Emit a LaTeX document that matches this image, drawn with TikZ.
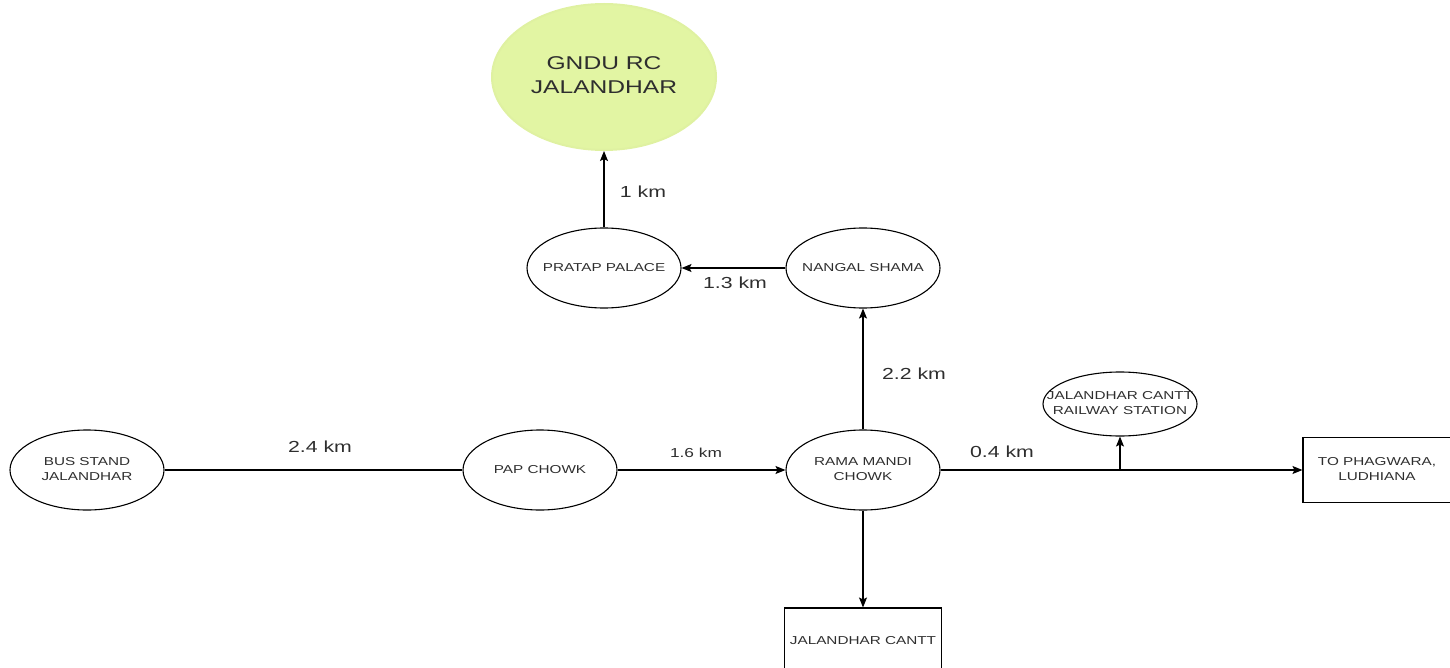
\documentclass[tikz,border=0pt]{standalone}
\usepackage{fontspec}
\setmainfont[FakeStretch=1.33]{Liberation Sans}
\usetikzlibrary{shapes.geometric,arrows.meta}
\definecolor{txt}{HTML}{2E2E2E}
\definecolor{gnfill}{HTML}{E2F5A3}
\newcommand{\ztext}[1]{\makebox[0pt][c]{\raisebox{-1.5pt}{\begin{tabular}{@{}c@{}}#1\end{tabular}}}}
\tikzset{
  place/.style={ellipse,draw=black,line width=1.1pt,inner sep=0pt,minimum width=154pt,minimum height=80pt,align=center,font=\fontsize{11.5}{15.5}\selectfont,text=txt},
  boxnode/.style={rectangle,draw=black,line width=1.1pt,inner sep=0pt,align=center,font=\fontsize{11.5}{15.5}\selectfont,text=txt},
  conn/.style={line width=1.1pt,draw=black},
  arr/.style={conn,-{Stealth[length=10pt,width=8pt,inset=2pt]}},
  biglabel/.style={font=\fontsize{16}{18}\selectfont,text=txt,inner sep=0pt},
  midlabel/.style={font=\fontsize{13}{15}\selectfont,text=txt,inner sep=0pt}
}
\begin{document}
\begin{tikzpicture}[x=1pt,y=-1pt]
\useasboundingbox (0,0) rectangle (1450,668);
\clip (0,0) rectangle (1450,668);
\node[ellipse,fill=gnfill,draw=gnfill!85!black!10!gnfill,line width=2pt,inner sep=0pt,minimum width=224pt,minimum height=146pt,align=center,font=\fontsize{18.5}{23.5}\selectfont,text=txt] (gndu) at (604,77) {\ztext{GNDU RC\\JALANDHAR}};
\node[place] (pratap) at (604,268) {\ztext{PRATAP PALACE}};
\node[place] (nangal) at (863,268) {\ztext{NANGAL SHAMA}};
\node[place] (rama) at (863,470) {\ztext{RAMA MANDI\\CHOWK}};
\node[place] (pap) at (540,470) {\ztext{PAP CHOWK}};
\node[place] (bus) at (87,470) {\ztext{BUS STAND\\JALANDHAR}};
\node[place,minimum width=154pt,minimum height=64pt] (rail) at (1120,404) {\ztext{JALANDHAR CANTT\\RAILWAY STATION}};
\node[boxnode,minimum width=148pt,minimum height=65pt] (phag) at (1377,470) {\ztext{TO PHAGWARA,\\LUDHIANA}};
\node[boxnode,minimum width=157pt,minimum height=66pt] (cantt) at (863,641) {\ztext{JALANDHAR CANTT}};
\coordinate (junc) at (1120,470);

\draw[conn] (bus) -- (pap);
\draw[arr] (pap) -- (rama);
\draw[arr] (rama) -- (phag);
\draw[arr] (junc) -- (rail);
\draw[arr] (rama) -- (cantt);
\draw[arr] (rama) -- (nangal);
\draw[arr] (nangal) -- (pratap);
\draw[arr] (pratap) -- (gndu);

\node[biglabel] (l24) at (320,447) {2.4 km};
\node[midlabel] (l16) at (696,453) {1.6 km};
\node[biglabel] (l04) at (1002,452) {0.4 km};
\node[biglabel] (l22) at (914,374) {2.2 km};
\node[biglabel] (l13) at (735,283) {1.3 km};
\node[biglabel] (l1) at (643,192) {1 km};
\end{tikzpicture}
\end{document}
